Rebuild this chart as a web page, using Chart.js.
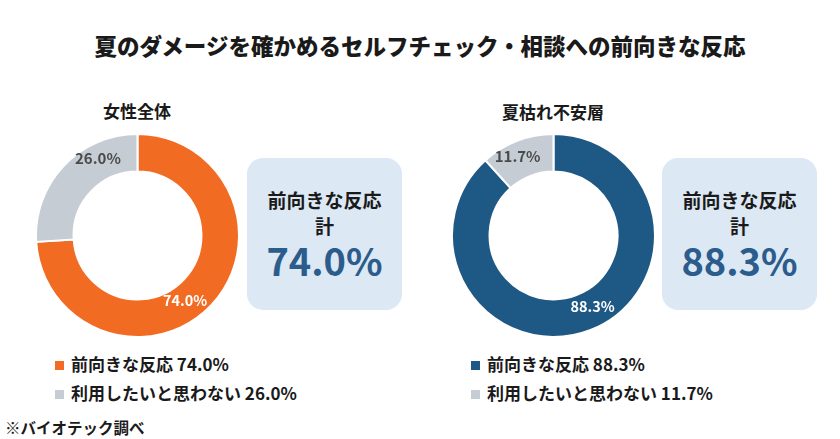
<!DOCTYPE html>
<html lang="ja">
<head>
<meta charset="utf-8">
<script src="https://cdn.jsdelivr.net/npm/chart.js@4"></script>
<style>
  html,body{margin:0;padding:0;background:#ffffff;}
  body{width:840px;height:439px;position:relative;overflow:hidden;font-family:"Noto Sans CJK JP","Noto Sans",sans-serif;color:#1a1a1a;}
  .abs{position:absolute;}
  #title{left:0;width:840px;top:30px;text-align:center;font-size:22.5px;font-weight:900;line-height:30px;}
  .sub{font-size:17px;font-weight:700;text-align:center;width:200px;line-height:22px;}
  .box{width:155px;height:152px;background:#dce8f4;border-radius:16px;text-align:center;}
  .boxlabel{position:absolute;left:0;width:155px;font-size:19px;font-weight:700;line-height:24px;color:#1a1a1a;}
  .boxval{position:absolute;left:0;width:155px;font-size:38px;font-weight:700;line-height:44px;color:#2b5c8c;}
  .leg{font-size:17px;font-weight:700;line-height:22px;white-space:nowrap;}
  .sq{display:inline-block;width:9px;height:9px;margin-right:7px;vertical-align:1px;}
  #src{left:5px;top:416px;font-size:15.5px;font-weight:700;line-height:22px;}
  canvas{display:block;}
</style>
</head>
<body>
<div id="title" class="abs"></div>
<div id="sub0" class="abs sub" style="left:37px;top:100px;"></div>
<div id="sub1" class="abs sub" style="left:453px;top:101px;"></div>
<div class="abs" style="left:35px;top:133px;width:205px;height:205px;"><canvas id="c0" width="205" height="205"></canvas></div>
<div class="abs" style="left:451px;top:133px;width:205px;height:205px;"><canvas id="c1" width="205" height="205"></canvas></div>
<div id="box0" class="abs box" style="left:247px;top:158px;"></div>
<div id="box1" class="abs box" style="left:662px;top:158px;"></div>
<div id="leg0" class="abs" style="left:55px;top:353px;"></div>
<div id="leg1" class="abs" style="left:471px;top:353px;"></div>
<div id="src" class="abs"></div>

<script>
// ---- data ----
const chartTitle = "夏のダメージを確かめるセルフチェック・相談への前向きな反応";
const groupNames = ["女性全体", "夏枯れ不安層"];
const categories = ["前向きな反応", "利用したいと思わない"];
const seriesWomenAll = [74.0, 26.0];
const seriesSummerAnxious = [88.3, 11.7];
const boxLabelLines = ["前向きな反応", "計"];
const sourceNote = "※バイオテック調べ";

// ---- styles ----
const colorSets = [["#f26b23", "#c6ccd4"], ["#1e5884", "#c6ccd4"]];
const labelColors = ["#ffffff", "#4a4a4a"];
const labelFrac = [[0.54, 0.71], [0.475, 0.42]];

const allSeries = [seriesWomenAll, seriesSummerAnxious];
const fmt = v => v.toFixed(1) + "%";

document.getElementById("title").textContent = chartTitle;
document.getElementById("src").textContent = sourceNote;

const arcLabels = {
  id: "arcLabels",
  afterDatasetsDraw(chart, args, opts) {
    const ctx = chart.ctx;
    const meta = chart.getDatasetMeta(0);
    const ds = chart.data.datasets[0];
    meta.data.forEach((arc, i) => {
      const p = arc.getProps(["startAngle","endAngle","innerRadius","outerRadius","x","y"], true);
      const f = opts.frac[i];
      const a = p.startAngle + (p.endAngle - p.startAngle) * f;
      const r = (p.innerRadius + p.outerRadius) / 2 + (i === 1 ? 4 : -2);
      const x = p.x + Math.cos(a) * r;
      const y = p.y + Math.sin(a) * r;
      ctx.save();
      ctx.font = (i === 0 ? "700 14.5px " : "700 15px ") + '"Noto Sans CJK JP","Noto Sans",sans-serif';
      ctx.fillStyle = labelColors[i];
      ctx.textAlign = "center";
      ctx.textBaseline = "middle";
      ctx.fillText(fmt(ds.data[i]), x, y);
      ctx.restore();
    });
  }
};

allSeries.forEach((series, k) => {
  document.getElementById("sub" + k).textContent = groupNames[k];
  const box = document.getElementById("box" + k);
  box.innerHTML =
    '<div class="boxlabel" style="top:30px;">' + boxLabelLines[0] + '</div>' +
    '<div class="boxlabel" style="top:56px;">' + boxLabelLines[1] + '</div>' +
    '<div class="boxval" style="top:80px;">' + fmt(series[0]) + '</div>';
  const leg = document.getElementById("leg" + k);
  leg.innerHTML = categories.map((c, i) =>
    '<div class="leg" style="margin-bottom:' + (i === 0 ? 7 : 0) + 'px;"><span class="sq" style="background:' +
    colorSets[k][i] + '"></span>' + c + ' ' + fmt(series[i]) + '</div>').join("");

  new Chart(document.getElementById("c" + k), {
    type: "doughnut",
    data: {
      labels: categories,
      datasets: [{
        data: series,
        backgroundColor: colorSets[k],
        borderColor: "#ffffff",
        borderWidth: 2,
        hoverOffset: 0,
        offset: 0
      }]
    },
    options: {
      responsive: false,
      animation: false,
      cutout: "63%",
      layout: { padding: 0 },
      plugins: {
        legend: { display: false },
        tooltip: { enabled: false },
        arcLabels: { frac: labelFrac[k] }
      }
    },
    plugins: [arcLabels]
  });
});
</script>
</body>
</html>
